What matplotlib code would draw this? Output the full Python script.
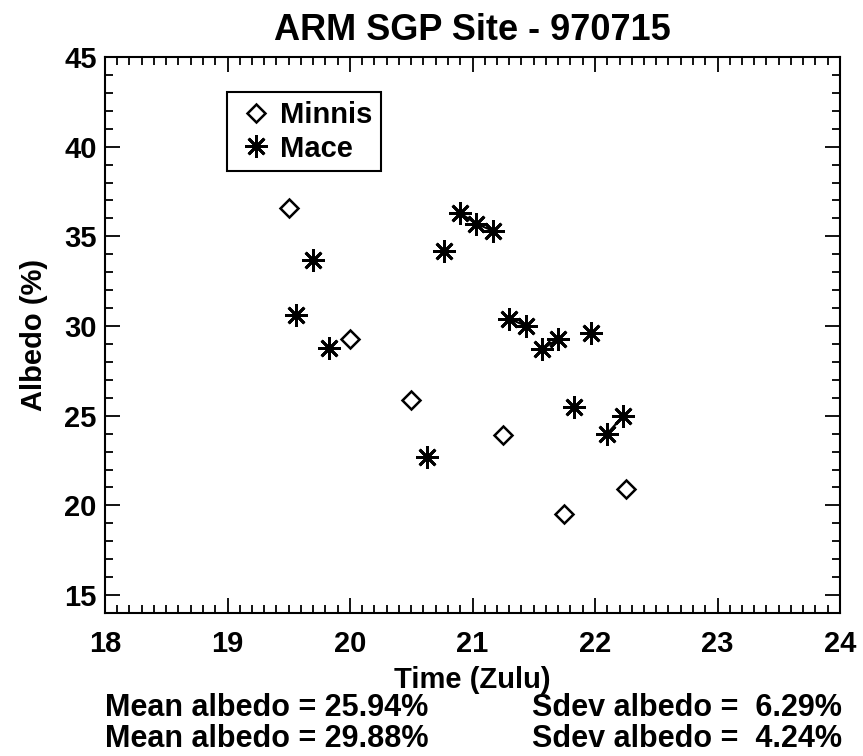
import numpy as np
import matplotlib.pyplot as plt
from matplotlib.ticker import MultipleLocator

# values
minnis_time = np.array([19.50, 20.00, 20.50, 21.25, 21.75, 22.25])
minnis_albedo = np.array([36.6, 29.3, 25.9, 23.9, 19.5, 20.9])

mace_time = np.array([19.56, 19.70, 19.83, 20.63, 20.77, 20.90, 21.03, 21.17,
                      21.30, 21.44, 21.57, 21.70, 21.83, 21.97, 22.10, 22.23])
mace_albedo = np.array([30.6, 33.7, 28.8, 22.7, 34.2, 36.3, 35.7, 35.3,
                        30.4, 30.0, 28.7, 29.3, 25.5, 29.6, 24.0, 25.0])
# consecutive Mace samples that are joined by a line segment
mace_joined = [[5, 6, 7], [8, 9], [10, 11], [14, 15]]

stats_lines = [("Mean albedo = 25.94%", "Sdev albedo =  6.29%"),
               ("Mean albedo = 29.88%", "Sdev albedo =  4.24%")]

plt.rcParams['font.family'] = ['Liberation Sans', 'DejaVu Sans']
plt.rcParams['font.weight'] = 'bold'
plt.rcParams['axes.titleweight'] = 'bold'
plt.rcParams['axes.labelweight'] = 'bold'

fig = plt.figure(figsize=(8.63, 7.56), dpi=100)
ax = fig.add_axes([105 / 863, 1 - 613 / 756, 735 / 863, 556 / 756])

star = (8, 2, 0)
for idx in mace_joined:
    ax.plot(mace_time[idx], mace_albedo[idx], color='k', lw=1.5)
ax.plot(minnis_time, minnis_albedo, ls='none', marker='D', ms=9,
        mfc='white', mec='k', mew=1.8, label='Minnis')
ax.plot(mace_time, mace_albedo, ls='none', marker=star, ms=16,
        mec='k', mew=2.0, label='Mace')

ax.set_xlim(18, 24)
ax.set_ylim(14, 45)
ax.xaxis.set_major_locator(MultipleLocator(1))
ax.xaxis.set_minor_locator(MultipleLocator(0.1))
ax.yaxis.set_minor_locator(MultipleLocator(1))
ax.yaxis.set_ticks([15, 20, 25, 30, 35, 40, 45])
ax.tick_params(which='both', direction='in', top=True, right=True,
               width=1.3, labelsize=21)
ax.tick_params(which='major', length=11)
ax.tick_params(which='minor', length=5.5)
ax.tick_params(axis='x', pad=12)
ax.tick_params(axis='y', pad=6)
for s in ax.spines.values():
    s.set_linewidth(1.5)

ax.set_xlabel('Time (Zulu)', fontsize=21, labelpad=6)
ax.set_ylabel('Albedo (%)', fontsize=21, labelpad=12)
ax.set_title('ARM SGP Site - 970715', fontsize=26, pad=12)

leg = ax.legend(loc='upper left', bbox_to_anchor=(0.166, 0.937),
                borderaxespad=0, fontsize=21, fancybox=False,
                edgecolor='k', framealpha=1, handlelength=1.4,
                handletextpad=0.1, borderpad=0.3, labelspacing=0.2)
leg.get_frame().set_linewidth(1.5)

for i, (mean_txt, sdev_txt) in enumerate(stats_lines):
    y = 1 - (708 + 31 * i) / 756
    fig.text(105 / 863, y, mean_txt, fontsize=22, va='center', ha='left')
    fig.text(532 / 863, y, sdev_txt, fontsize=22, va='center', ha='left')

fig.savefig('out.png', dpi=100)
